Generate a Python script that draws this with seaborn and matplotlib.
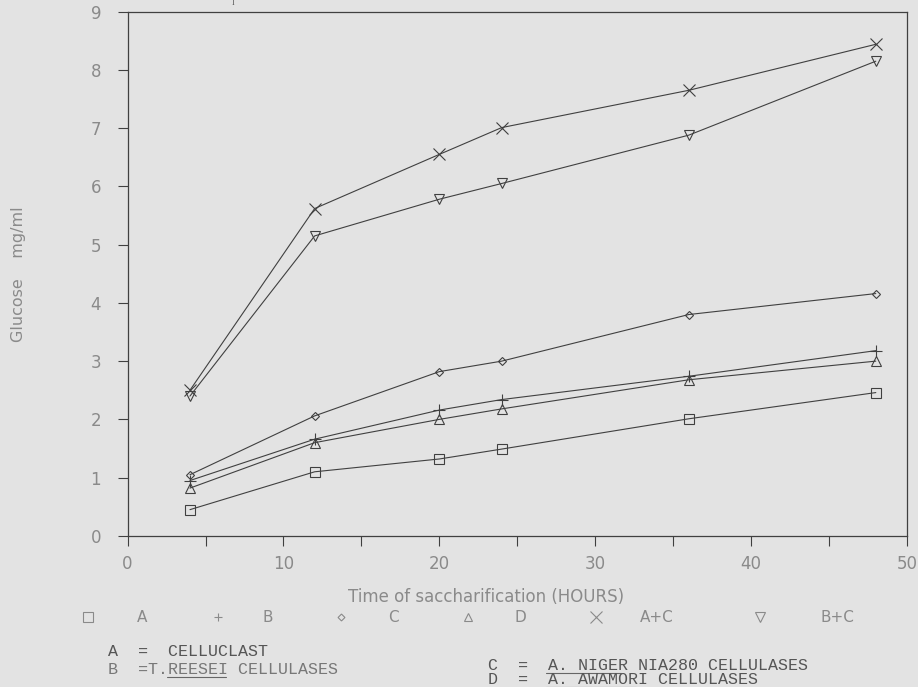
import matplotlib
matplotlib.use("Agg")
import matplotlib.pyplot as plt
import seaborn as sns
import pandas as pd
from matplotlib.lines import Line2D

hours = [4, 12, 20, 24, 36, 48]
series_names = ["A", "B", "C", "D", "A+C", "B+C"]
A = [0.45, 1.10, 1.32, 1.49, 2.01, 2.46]
B = [0.95, 1.66, 2.16, 2.34, 2.74, 3.18]
C = [1.05, 2.06, 2.82, 3.00, 3.80, 4.16]
D = [0.82, 1.60, 2.00, 2.18, 2.68, 3.00]
AC = [2.50, 5.62, 6.55, 7.01, 7.65, 8.44]
BC = [2.40, 5.15, 5.78, 6.05, 6.88, 8.15]
values = [A, B, C, D, AC, BC]
x_ticks = [0, 10, 20, 30, 40, 50]
y_ticks = [0, 1, 2, 3, 4, 5, 6, 7, 8, 9]

markers = {"A": "s", "B": "+", "C": "D", "D": "^", "A+C": "x", "B+C": "v"}
msizes = {"A": 6.5, "B": 9, "C": 4.5, "D": 6.5, "A+C": 8, "B+C": 6.5}
leg_sizes = {"A": 6.5, "B": 6, "C": 3.5, "D": 6, "A+C": 8, "B+C": 6.5}

rows = []
for name, vals in zip(series_names, values):
    for h, v in zip(hours, vals):
        rows.append({"Hours": h, "Glucose": v, "Series": name})
df = pd.DataFrame(rows)

sns.set_style("ticks")
bg = "#e3e3e3"
ink = "#404040"
gray = "#8a8a8a"

fig = plt.figure(figsize=(9.18, 6.87), dpi=100, facecolor=bg)
ax = fig.add_axes([0.139, 0.220, 0.849, 0.763])
ax.set_facecolor(bg)

for name in series_names:
    sub = df[df["Series"] == name]
    sns.lineplot(data=sub, x="Hours", y="Glucose", ax=ax, color=ink, lw=0.8,
                 marker=markers[name], markersize=msizes[name],
                 markerfacecolor="none" if markers[name] not in ("+", "x") else ink,
                 markeredgecolor=ink, markeredgewidth=0.8, legend=False)

ax.set_xlim(0, 50)
ax.set_ylim(0, 9)
ax.set_xticks(x_ticks)
ax.set_xticks([5, 15, 25, 35, 45], minor=True)
ax.set_yticks(y_ticks)
ax.tick_params(axis="both", which="both", direction="out", length=7, width=0.8, color=ink,
               labelcolor=gray, labelsize=12)
ax.tick_params(axis="x", which="major", pad=7)
ax.tick_params(axis="y", pad=12)
for s in ax.spines.values():
    s.set_color(ink)
    s.set_linewidth(0.9)
ax.set_xlabel("Time of saccharification (HOURS)", color=gray, fontsize=12)
ax.xaxis.set_label_coords(0.46, -0.100)
ax.set_ylabel("Glucose    mg/ml", color=gray, fontsize=11.5)
ax.yaxis.set_label_coords(-0.130, 0.5)

# fragment of text at the top edge
fig.text(233 / 918, 1 - 3 / 687, "I", color="#555555", fontsize=6, va="center",
         ha="center", family="Liberation Serif")

# legend row
leg_y = 1 - 617 / 687
items = [("A", 88, 137), ("B", 218, 263), ("C", 341, 388), ("D", 468, 515),
         ("A+C", 596, 640), ("B+C", 760, 820)]
for name, mx, tx in items:
    mk = markers[name]
    fig.add_artist(Line2D([mx / 918], [leg_y], transform=fig.transFigure,
                          marker=mk, markersize=leg_sizes[name], color=gray,
                          markerfacecolor="none" if mk not in ("+", "x") else gray,
                          markeredgewidth=0.8, linestyle="none"))
    fig.text(tx / 918, leg_y, name, color=gray, fontsize=11, va="center", ha="left")

mono = "Liberation Mono"
fs = 12
fig.text(108 / 918, 1 - 651 / 687, "A  =  CELLUCLAST", family=mono, fontsize=fs,
         color="#555555", va="center")
fig.text(108 / 918, 1 - 669 / 687, "B  =T.REESEI CELLULASES", family=mono, fontsize=fs,
         color="#777777", va="center")
fig.text(488 / 918, 1 - 666 / 687, "C  =  A. NIGER NIA280 CELLULASES", family=mono,
         fontsize=fs, color="#555555", va="center")
fig.text(488 / 918, 1 - 680 / 687, "D  =  A. AWAMORI CELLULASES", family=mono,
         fontsize=fs, color="#555555", va="center")
# underlines
for x0, x1, y in [(167, 226, 677), (546, 621, 673), (546, 636, 687)]:
    fig.add_artist(Line2D([x0 / 918, x1 / 918], [1 - y / 687, 1 - y / 687],
                          transform=fig.transFigure, color="#666666", lw=0.8))

fig.savefig("out.png", dpi=100, facecolor=bg)
